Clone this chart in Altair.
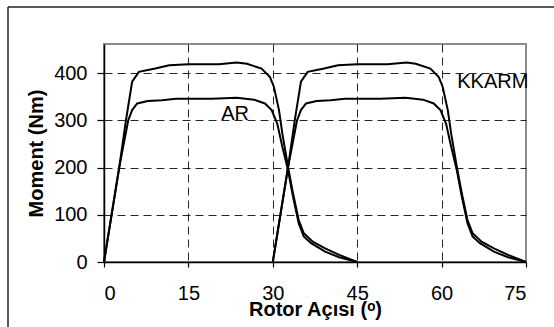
import altair as alt
import pandas as pd

# Torque vs rotor angle for two motor designs (AR and KKARM), two phases each
ar_p1_deg = [0, 2.7, 4.3, 5.0, 5.9, 7.8, 10.3, 12.8, 19.1, 23.6, 26.7, 28.6, 29.8,
             30.8, 31.7, 32.7, 33.6, 34.6, 35.5, 36.8, 39.3, 41.8, 45]
ar_p1_nm = [0, 200, 300, 322, 336, 341, 343, 346, 346, 348, 344, 336, 322,
            293, 244, 195, 138, 82, 54, 40, 22, 10, 0]

kk_p1_deg = [0, 2.7, 3.9, 5.0, 6.2, 9.1, 11.6, 15.0, 20.4, 23.6, 25.4, 28.0, 29.5,
             30.2, 31.1, 31.7, 32.7, 33.6, 34.6, 35.5, 37.1, 39.3, 41.8, 45]
kk_p1_nm = [0, 200, 300, 382, 403, 410, 417, 419, 419, 423, 420, 410, 392,
            371, 322, 272, 202, 145, 89, 61, 43, 29, 15, 0]

ar_p2_deg = [30, 32.7, 34.3, 35.0, 35.9, 37.8, 40.3, 42.8, 49.1, 53.6, 56.7, 58.6, 59.8,
             60.8, 61.7, 62.7, 63.6, 64.6, 65.5, 66.8, 69.3, 71.8, 75]
ar_p2_nm = [0, 200, 300, 322, 336, 341, 343, 346, 346, 348, 344, 336, 322,
            293, 244, 195, 138, 82, 54, 40, 22, 10, 0]

kk_p2_deg = [30, 32.7, 33.9, 35.0, 36.2, 39.1, 41.6, 45.0, 50.4, 53.8, 55.4, 58.0, 59.5,
             60.2, 61.1, 61.7, 62.7, 63.6, 64.6, 65.5, 67.1, 69.3, 71.8, 75]
kk_p2_nm = [0, 200, 300, 382, 403, 410, 417, 419, 419, 423, 420, 410, 392,
            371, 322, 272, 202, 145, 89, 61, 43, 29, 15, 0]

x_ticks = [0, 15, 30, 45, 60, 75]
y_ticks = [0, 100, 200, 300, 400]

label_text = ["AR", "KKARM"]
label_deg = [23.3, 69.1]
label_nm = [300, 368]

FONT = "Liberation Sans"

frames = []
for name, xs, ys in [("AR-1", ar_p1_deg, ar_p1_nm), ("KKARM-1", kk_p1_deg, kk_p1_nm),
                     ("AR-2", ar_p2_deg, ar_p2_nm), ("KKARM-2", kk_p2_deg, kk_p2_nm)]:
    frames.append(pd.DataFrame({"series": name, "deg": xs, "nm": ys, "i": range(len(xs))}))
curves = pd.concat(frames, ignore_index=True)

labels = pd.DataFrame({"text": label_text, "deg": label_deg, "nm": label_nm})

x_scale = alt.Scale(domain=[0, 75], nice=False, zero=False)
y_scale = alt.Scale(domain=[0, 462], nice=False)

x_axis = alt.Axis(
    values=x_ticks, title="Rotor Açısı (ᵒ)", grid=True,
    gridOpacity={"condition": {"test": "datum.value == 75 || datum.value == 0", "value": 0}, "value": 0.85},
    tickSize=5, labelPadding=16, titleX=211, titleY=53, titleBaseline="alphabetic",
    titleAnchor="middle",
)
y_axis = alt.Axis(
    values=y_ticks, title="Moment (Nm)", grid=True,
    gridOpacity={"condition": {"test": "datum.value == 0", "value": 0}, "value": 0.85},
    tickSize=7, labelPadding=10, titleX=-62, titleY=109, titleBaseline="alphabetic",
    titleAnchor="middle",
)

lines = alt.Chart(curves).mark_line(color="black", strokeWidth=2).encode(
    x=alt.X("deg:Q", scale=x_scale, axis=x_axis),
    y=alt.Y("nm:Q", scale=y_scale, axis=y_axis),
    detail="series:N",
    order="i:Q",
)

texts = alt.Chart(labels).mark_text(
    font=FONT, fontSize=20, color="black", align="center", baseline="alphabetic"
).encode(
    x=alt.X("deg:Q", scale=x_scale),
    y=alt.Y("nm:Q", scale=y_scale),
    text="text:N",
)

# Outer frame along the left and top edges of the figure
frame_left = alt.Chart(pd.DataFrame({"k": [0]})).mark_rule(color="#222", strokeWidth=1.5).encode(
    x=alt.value(-96), y=alt.value(-37), y2=alt.value(300)
)
frame_top = alt.Chart(pd.DataFrame({"k": [0]})).mark_rule(color="#222", strokeWidth=1.5).encode(
    x=alt.value(-96), x2=alt.value(460), y=alt.value(-37)
)

chart = alt.layer(frame_left, frame_top, lines, texts).properties(
    width=422, height=218,
    autosize=alt.AutoSizeParams(type="none"),
    padding={"left": 104, "top": 44, "right": 28, "bottom": 65},
    background="white",
).configure_view(
    stroke="#8c8c8c", strokeWidth=2
).configure_axis(
    labelFont=FONT, labelFontSize=20, labelColor="black",
    titleFont=FONT, titleFontSize=20, titleFontWeight="bold", titleColor="black",
    domainColor="black", domainWidth=1.5, tickColor="black", tickWidth=1.2,
    gridColor="black", gridDash=[8, 5], gridWidth=1,
)

chart.save("out.html", embed_options={"renderer": "svg", "actions": False})
